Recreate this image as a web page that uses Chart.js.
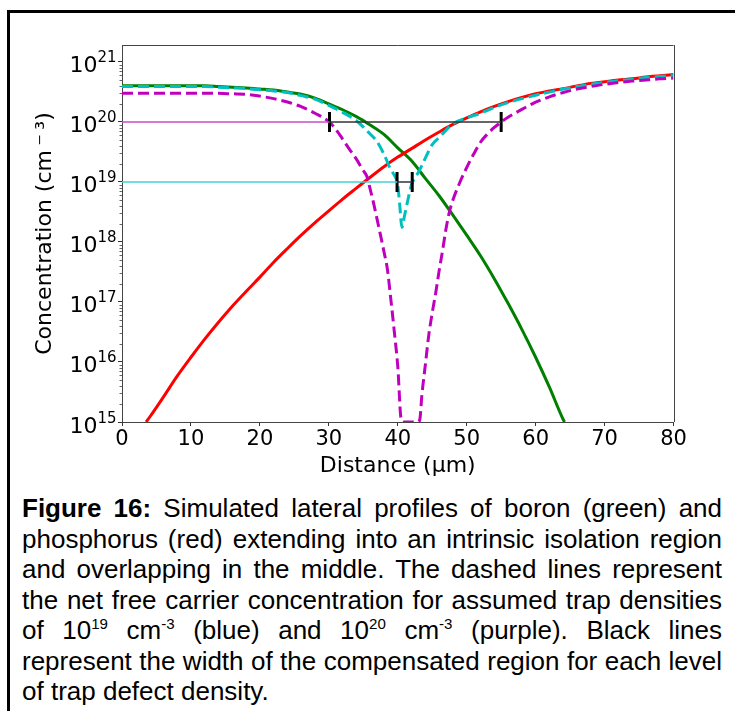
<!DOCTYPE html>
<html lang="en">
<head>
<meta charset="UTF-8">
<title>Figure 16</title>
<style>
    html, body { margin: 0; padding: 0; background: #fff; }
    body { width: 735px; height: 711px; position: relative; overflow: hidden; }
    .frame { position: absolute; left: 7px; top: 10px; width: 900px; height: 900px;
             border-left: 3px solid #000; border-top: 3px solid #000; }
    #chart { position: absolute; left: 0; top: 0; }
    .caption { position: absolute; left: 22px; top: 493px; width: 700px;
               font-family: "Liberation Sans", Arial, sans-serif; font-size: 26px;
               line-height: 30.5px; color: #000; }
    .caption div { text-align: justify; text-align-last: justify; }
    .caption div.last { text-align-last: left; }
    .caption sup { font-size: 0.58em; line-height: 0; vertical-align: 0.65em; }
</style>
<script src="https://cdn.jsdelivr.net/npm/chart.js"></script>
</head>
<body>
<div class="frame"></div>
<canvas id="chart" width="735" height="480" style="width:735px;height:480px"></canvas>
<div class="caption">
    <div><b>Figure 16:</b> Simulated lateral profiles of boron (green) and</div>
    <div>phosphorus (red) extending into an intrinsic isolation region</div>
    <div>and overlapping in the middle. The dashed lines represent</div>
    <div>the net free carrier concentration for assumed trap densities</div>
    <div>of 10<sup>19</sup> cm<sup>-3</sup> (blue) and 10<sup>20</sup> cm<sup>-3</sup> (purple). Black lines</div>
    <div>represent the width of the compensated region for each level</div>
    <div class="last">of trap defect density.</div>
</div>

<script>
    // distance in um, concentration in cm^-3
    const boronX = [0, 2, 4, 6, 8, 10, 12, 14, 16, 18, 20, 22, 24, 26, 28, 30, 32, 34, 36, 38, 40,
        42, 44, 46, 48, 50, 52, 54, 56, 58, 60, 62, 64, 64.2];
    const boronY = [4.0e20, 4.0e20, 4.0e20, 4.0e20, 4.0e20, 4.0e20, 4.0e20, 3.9e20, 3.8e20, 3.7e20,
        3.55e20, 3.4e20, 3.15e20, 2.9e20, 2.5e20, 2.0e20, 1.6e20, 1.23e20, 8.9e19, 6.2e19, 3.7e19,
        2.25e19, 1.15e19, 5.9e18, 2.8e18, 1.3e18, 5.9e17, 2.45e17, 9.5e16, 3.5e16, 1.2e16, 3.8e15,
        1.1e15, 1.0e15];

    const phosX = [3.5, 4, 6, 8, 10, 12, 14, 16, 18, 20, 22, 24, 26, 28, 30, 32, 34, 36, 38, 40,
        42, 44, 46, 48, 50, 52, 54, 56, 58, 60, 62, 64, 66, 68, 70, 72, 74, 76, 78, 80];
    const phosY = [1.0e15, 1.2e15, 2.6e15, 5.8e15, 1.2e16, 2.4e16, 4.6e16, 8.5e16, 1.5e17, 2.6e17,
        4.6e17, 7.8e17, 1.3e18, 2.1e18, 3.3e18, 5.2e18, 7.9e18, 1.2e19, 1.8e19, 2.6e19, 3.6e19,
        5.0e19, 6.8e19, 9.1e19, 1.17e20, 1.48e20, 1.82e20, 2.19e20, 2.57e20, 2.95e20, 3.3e20,
        3.6e20, 4.0e20, 4.4e20, 4.7e20, 5.0e20, 5.25e20, 5.6e20, 5.9e20, 6.2e20];

    // net free carriers, trap density 1e19
    const net19X = [0, 2, 4, 6, 8, 10, 12, 14, 16, 18, 20, 22, 24, 26, 28, 30, 32, 34, 36, 37, 38,
        39, 39.5, 40, 40.3, 40.6, 41, 41.5, 42, 42.5, 43, 44, 45, 46, 48, 50, 52, 54, 56, 58, 60,
        62, 64, 66, 68, 70, 72, 74, 76, 78, 80];
    const net19Y = [3.9e20, 3.9e20, 3.9e20, 3.9e20, 3.9e20, 3.9e20, 3.9e20, 3.8e20, 3.7e20, 3.6e20,
        3.45e20, 3.3e20, 3.1e20, 2.75e20, 2.4e20, 1.9e20, 1.45e20, 1.05e20, 6.3e19, 4.7e19, 2.9e19,
        1.6e19, 1.3e19, 8.9e18, 4.0e18, 1.75e18, 2.8e18, 5.2e18, 9.1e18, 1.2e19, 1.45e19, 2.5e19,
        4.2e19, 5.5e19, 9.3e19, 1.17e20, 1.4e20, 1.75e20, 2.1e20, 2.45e20, 2.8e20, 3.15e20,
        3.55e20, 3.9e20, 4.25e20, 4.55e20, 4.9e20, 5.1e20, 5.5e20, 5.75e20, 6.0e20];

    // net free carriers, trap density 1e20
    const net20X = [0, 2, 4, 6, 8, 10, 12, 14, 16, 18, 20, 22, 24, 26, 28, 30, 31, 32, 33, 34, 35,
        35.5, 36, 36.5, 37, 37.5, 38, 38.5, 39, 39.5, 40, 40.5, 40.9, 42.9, 43.2, 43.5, 44, 44.5,
        45, 45.5, 46, 46.5, 47, 47.5, 48, 49, 50, 51, 52, 53, 54, 55, 56, 58, 60, 62, 64, 66, 68,
        70, 72, 74, 76, 78, 80];
    const net20Y = [3.0e20, 3.0e20, 3.0e20, 3.0e20, 3.0e20, 3.0e20, 3.0e20, 3.0e20, 2.95e20,
        2.9e20, 2.7e20, 2.45e20, 2.15e20, 1.8e20, 1.4e20, 1.02e20, 7.6e19, 5.2e19, 3.5e19, 2.4e19,
        1.55e19, 1.26e19, 7.6e18, 4.4e18, 2.4e18, 1.3e18, 6.9e17, 3.5e17, 1.1e17, 3.2e16, 8.5e15,
        1.1e15, 1.0e15, 1.0e15, 1.1e15, 2.8e15, 8.9e15, 2.8e16, 6.6e16, 1.4e17, 3.3e17, 7.2e17,
        1.66e18, 3.2e18, 5.0e18, 9.8e18, 1.74e19, 2.9e19, 4.6e19, 6.3e19, 8.1e19, 1.0e20, 1.2e20,
        1.62e20, 2.14e20, 2.63e20, 3.1e20, 3.55e20, 3.9e20, 4.25e20, 4.55e20, 4.8e20, 5.0e20,
        5.25e20, 5.4e20];

    // compensated region width for each trap level
    const trapLevels = [1e19, 1e20];
    const compLeft = [39.9, 30.1];
    const compRight = [42.1, 55.0];

    const xTicks = [0, 10, 20, 30, 40, 50, 60, 70, 80];
    const yTickExps = [15, 16, 17, 18, 19, 20, 21];
    const yTickBase = '10';

    function pts(xs, ys) {
        return xs.map((x, i) => ({ x: x, y: ys[i] }));
    }

    const tickFont = { family: 'DejaVu Sans', size: 21 };
    const titleFont = { family: 'DejaVu Sans', size: 22 };

    // top/right spines, minor log ticks and 10^n labels with a real superscript
    const extras = {
        id: 'extras',
        afterDraw(chart) {
            const ctx = chart.ctx;
            const a = chart.chartArea;
            const y = chart.scales.y;
            ctx.save();
            ctx.strokeStyle = '#444';
            ctx.lineWidth = 1;
            ctx.beginPath();
            ctx.moveTo(a.left, Math.round(a.top) + 0.5);
            ctx.lineTo(a.right, Math.round(a.top) + 0.5);
            ctx.moveTo(Math.round(a.right) + 0.5, a.top);
            ctx.lineTo(Math.round(a.right) + 0.5, a.bottom);
            ctx.stroke();
            ctx.strokeStyle = '#666';
            ctx.beginPath();
            yTickExps.forEach(e => {
                for (let m = 2; m <= 9; m++) {
                    const v = m * Math.pow(10, e);
                    if (v > y.max) continue;
                    const py = Math.round(y.getPixelForValue(v)) + 0.5;
                    ctx.moveTo(a.left - 2.5, py);
                    ctx.lineTo(a.left, py);
                }
            });
            ctx.stroke();

            ctx.fillStyle = '#000';
            ctx.textAlign = 'right';
            ctx.textBaseline = 'alphabetic';
            const xr = a.left - 5.5;
            yTickExps.forEach(e => {
                const py = y.getPixelForValue(Math.pow(10, e));
                const sup = String(e);
                ctx.font = '15px "DejaVu Sans"';
                const ws = ctx.measureText(sup).width;
                ctx.fillText(sup, xr, py + 0.5);
                ctx.font = '22px "DejaVu Sans"';
                ctx.fillText(yTickBase, xr - ws, py + 10.5);
            });
            ctx.restore();
        }
    };

    new Chart(document.getElementById('chart'), {
        type: 'line',
        data: {
            datasets: [
                {
                    data: [{ x: 0, y: trapLevels[0] }, { x: compLeft[0], y: trapLevels[0] }],
                    borderColor: '#45d0d0', borderWidth: 1.5, order: 0
                },
                {
                    data: [{ x: 0, y: trapLevels[1] }, { x: compLeft[1], y: trapLevels[1] }],
                    borderColor: '#c64cc6', borderWidth: 1.5, order: 0
                },
                {
                    data: [{ x: compLeft[0], y: trapLevels[0] }, { x: compRight[0], y: trapLevels[0] }],
                    borderColor: '#333', borderWidth: 1.5, order: 0
                },
                {
                    data: [{ x: compLeft[1], y: trapLevels[1] }, { x: compRight[1], y: trapLevels[1] }],
                    borderColor: '#333', borderWidth: 1.5, order: 0
                },
                {
                    data: pts(compLeft.concat(compRight), trapLevels.concat(trapLevels)),
                    showLine: false, pointStyle: 'line', rotation: 90, pointRadius: 10,
                    pointBorderWidth: 3, borderColor: '#000', order: 0
                },
                {
                    label: 'net, Nt = 1e20', data: pts(net20X, net20Y),
                    borderColor: '#bf00bf', borderWidth: 3, borderDash: [11, 5],
                    cubicInterpolationMode: 'monotone', order: 1
                },
                {
                    label: 'net, Nt = 1e19', data: pts(net19X, net19Y),
                    borderColor: '#00bfbf', borderWidth: 3, borderDash: [11, 5],
                    cubicInterpolationMode: 'monotone', order: 2
                },
                {
                    label: 'phosphorus', data: pts(phosX, phosY),
                    borderColor: '#ff0000', borderWidth: 3,
                    cubicInterpolationMode: 'monotone', order: 3
                },
                {
                    label: 'boron', data: pts(boronX, boronY),
                    borderColor: '#008000', borderWidth: 3,
                    cubicInterpolationMode: 'monotone', order: 4
                }
            ]
        },
        options: {
            responsive: false,
            animation: false,
            devicePixelRatio: 1,
            layout: { padding: { top: 45, right: 61.5, bottom: 0, left: 0 } },
            plugins: { legend: { display: false }, tooltip: { enabled: false } },
            elements: { point: { radius: 0 } },
            scales: {
                x: {
                    type: 'linear', min: 0, max: 80,
                    afterBuildTicks: s => { s.ticks = xTicks.map(v => ({ value: v })); },
                    afterFit: s => { s.height = 58; },
                    grid: { drawOnChartArea: false, drawTicks: true, tickLength: 4, tickColor: '#333' },
                    border: { display: true, color: '#444', width: 1 },
                    ticks: { font: tickFont, color: '#000', padding: 1, maxRotation: 0, autoSkip: false },
                    title: {
                        display: true, text: 'Distance (μm)', font: titleFont, color: '#000',
                        padding: { top: 0, bottom: 1 }
                    }
                },
                y: {
                    type: 'logarithmic', min: 1e15, max: 1.92e21,
                    afterBuildTicks: s => { s.ticks = yTickExps.map(e => ({ value: Math.pow(10, e) })); },
                    afterFit: s => { s.width = 122; },
                    grid: { drawOnChartArea: false, drawTicks: true, tickLength: 4, tickColor: '#333' },
                    border: { display: true, color: '#444', width: 1 },
                    ticks: { display: false },
                    title: {
                        display: true, text: 'Concentration (cm\u2009\u207B\u2009\u00B3)', font: titleFont,
                        color: '#000', padding: { top: 32, bottom: 0 }
                    }
                }
            }
        },
        plugins: [extras]
    });
</script>
</body>
</html>
